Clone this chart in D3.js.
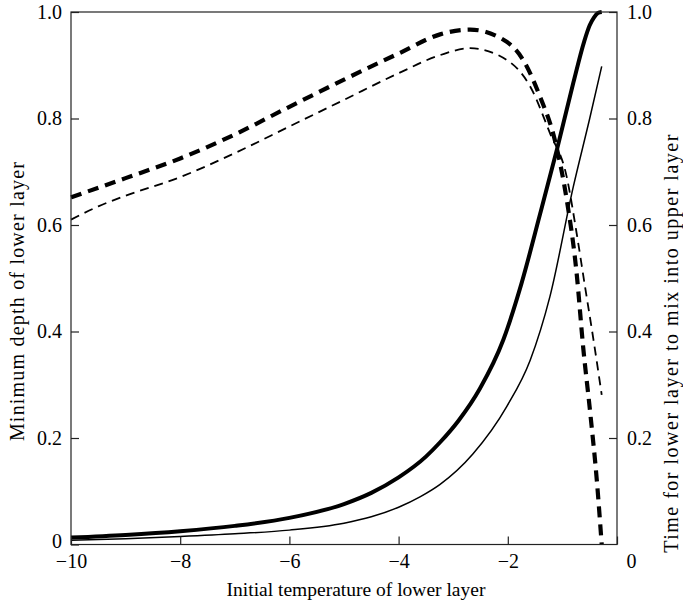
<!DOCTYPE html>
<html>
<head>
<meta charset="utf-8">
<script src="https://cdn.jsdelivr.net/npm/d3@7"></script>
<style>
  body { margin: 0; background: #fff; }
  svg text { font-family: "Liberation Serif", "DejaVu Serif", serif; fill: #000; }
</style>
</head>
<body>
<script>
(function () {
    'use strict';

    // x ticks and y ticks
    var xTicks = [-10, -8, -6, -4, -2, 0];
    var yTicks = [0, 0.2, 0.4, 0.6, 0.8, 1.0];

    // minimum depth, thick solid
    var depthThickX = [-10, -9, -8, -7, -6, -5, -4.5, -4, -3.5, -3.24, -2.9, -2.51, -2.08, -1.75, -1.41, -1.1, -0.8, -0.6, -0.5, -0.42, -0.35, -0.28];
    var depthThickY = [0.013, 0.018, 0.025, 0.035, 0.05, 0.076, 0.097, 0.126, 0.165, 0.192, 0.233, 0.293, 0.385, 0.49, 0.62, 0.742, 0.867, 0.945, 0.975, 0.99, 0.998, 1.0];

    // minimum depth, thin solid
    var depthThinX = [-10, -9, -8, -7, -6, -5, -4.5, -4, -3.6, -3.24, -2.64, -2.02, -1.59, -1.23, -0.8, -0.5, -0.28];
    var depthThinY = [0.008, 0.011, 0.015, 0.02, 0.027, 0.04, 0.052, 0.07, 0.09, 0.113, 0.17, 0.259, 0.346, 0.465, 0.672, 0.8, 0.898];

    // mixing time, thick dashed
    var timeThickX = [-10, -9, -8, -7, -6, -5, -4, -3.24, -2.69, -2.02, -1.72, -1.41, -1.14, -0.92, -0.74, -0.62, -0.49, -0.37, -0.28];
    var timeThickY = [0.652, 0.688, 0.725, 0.77, 0.822, 0.873, 0.922, 0.958, 0.967, 0.944, 0.91, 0.841, 0.76, 0.647, 0.51, 0.371, 0.247, 0.121, 0.0];

    // mixing time, thin dashed
    var timeThinX = [-10, -9.5, -9, -8, -7, -6, -5, -4, -3.24, -2.69, -2.02, -1.59, -1.23, -0.92, -0.74, -0.59, -0.43, -0.28];
    var timeThinY = [0.61, 0.635, 0.655, 0.69, 0.735, 0.785, 0.835, 0.885, 0.919, 0.932, 0.91, 0.86, 0.773, 0.69, 0.585, 0.487, 0.384, 0.281];

    var width = 683, height = 602;
    var left = 71, right = 617, top = 12, bottom = 544.5;

    var svg = d3.select('body')
        .append('svg')
        .attr('width', width)
        .attr('height', height);

    var x = d3.scaleLinear().domain([-10, 0]).range([left, right]);
    var y = d3.scaleLinear().domain([0, 1]).range([bottom, top]);

    function zip(xs, ys) {
        return xs.map(function (v, i) { return [v, ys[i]]; });
    }

    var line = d3.line()
        .x(function (d) { return x(d[0]); })
        .y(function (d) { return y(d[1]); })
        .curve(d3.curveMonotoneX);

    var series = [
        { data: zip(depthThinX, depthThinY), w: 1.5, dash: null },
        { data: zip(timeThinX, timeThinY), w: 1.8, dash: '9,6' },
        { data: zip(depthThickX, depthThickY), w: 4, dash: null },
        { data: zip(timeThickX, timeThickY), w: 4.2, dash: '11,7' }
    ];

    svg.selectAll('path.curve')
        .data(series)
        .enter()
        .append('path')
        .attr('class', 'curve')
        .attr('d', function (d) { return line(d.data); })
        .attr('fill', 'none')
        .attr('stroke', '#000')
        .attr('stroke-width', function (d) { return d.w; })
        .attr('stroke-dasharray', function (d) { return d.dash; });

    var fmtY = function (d) { return d === 0 ? '0' : d.toFixed(1); };

    var gx = svg.append('g')
        .attr('transform', 'translate(0,' + bottom + ')')
        .call(d3.axisBottom(x).tickValues(xTicks).tickSize(-8).tickPadding(9));
    gx.selectAll('text').filter(function (d) { return d === 0; }).attr('dx', 14);

    var gl = svg.append('g')
        .attr('transform', 'translate(' + left + ',0)')
        .call(d3.axisLeft(y).tickValues(yTicks).tickFormat(fmtY).tickSize(-8).tickPadding(9));
    gl.selectAll('text').filter(function (d) { return d === 0; }).attr('y', -3);

    var gr = svg.append('g')
        .attr('transform', 'translate(' + right + ',0)')
        .call(d3.axisRight(y).tickValues(yTicks.slice(1)).tickFormat(fmtY).tickSize(-8).tickPadding(10));

    [gx, gl, gr].forEach(function (g) {
        g.select('.domain').remove();
        g.selectAll('line').attr('stroke', '#222').attr('stroke-width', 1.2);
        g.selectAll('text').attr('font-size', 20).attr('font-family', 'Liberation Serif');
    });

    svg.append('rect')
        .attr('x', left)
        .attr('y', top)
        .attr('width', right - left)
        .attr('height', bottom - top)
        .attr('fill', 'none')
        .attr('stroke', '#222')
        .attr('stroke-width', 1.2);

    svg.append('text')
        .attr('x', 356)
        .attr('y', 596)
        .attr('text-anchor', 'middle')
        .attr('font-size', 19.5)
        .text('Initial temperature of lower layer');

    svg.append('text')
        .attr('transform', 'translate(24,301) rotate(-90)')
        .attr('text-anchor', 'middle')
        .attr('font-size', 20)
        .attr('letter-spacing', 1.2)
        .text('Minimum depth of lower layer');

    svg.append('text')
        .attr('transform', 'translate(678,343) rotate(-90)')
        .attr('text-anchor', 'middle')
        .attr('font-size', 20)
        .attr('letter-spacing', 1.5)
        .text('Time for lower layer to mix into upper layer');
}());
</script>
</body>
</html>
